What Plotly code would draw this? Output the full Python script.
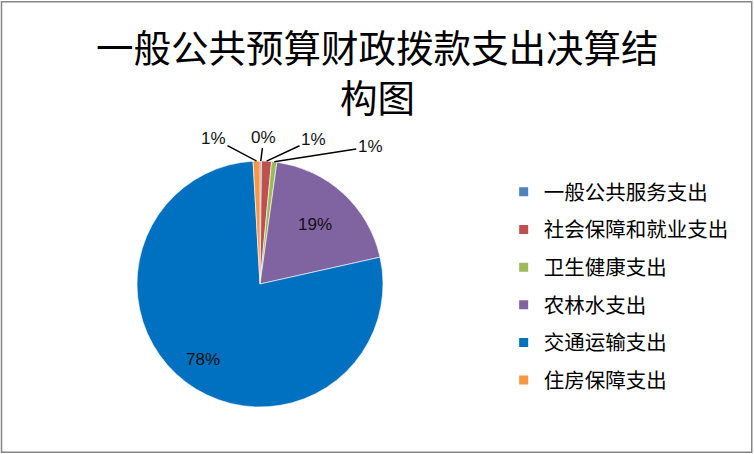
import math
import plotly.graph_objects as go

# ── data ────────────────────────────────────────────────────────────────
categories = ["一般公共服务支出", "社会保障和就业支出", "卫生健康支出",
              "农林水支出", "交通运输支出", "住房保障支出"]
shares     = [0.2, 1.3, 0.7, 19.3, 77.6, 0.9]
colors     = ["#4F81BD", "#C0504D", "#9BBB59", "#8064A2", "#0070C0", "#F79646"]

TITLE_LINES = ["一般公共预算财政拨款支出决算结", "构图"]
W, H = 754, 454
CJK = "Noto Sans CJK SC"
NUM = "Liberation Sans"

# pie geometry in pixels (centre + radius)
CX, CY, R = 260, 284, 123

fig = go.Figure()

fig.add_trace(go.Pie(
    labels=categories,
    values=shares,
    sort=False,
    direction="clockwise",
    rotation=0,
    marker=dict(colors=colors, line=dict(color="white", width=0.6)),
    textinfo="none",
    showlegend=False,
    hoverinfo="label+percent",
    domain=dict(x=[(CX - R) / W, (CX + R) / W], y=[(H - CY - R) / H, (H - CY + R) / H]),
))

# legend entries (one dummy trace per category so the spacing can be set)
for name, col in zip(categories, colors):
    fig.add_trace(go.Scatter(
        x=[None], y=[None], mode="markers", name=name, legendgroup=name,
        marker=dict(symbol="square", size=9, color=col),
    ))

# data labels: small slices get a leader line, big ones sit inside
outside = {0: (3, -24), 1: (47, -22), 2: (96, -15), 5: (-43, -23)}
inside = {3: 0.66, 4: 0.77}
total = sum(shares)
cum = 0.0
for i, v in enumerate(shares):
    mid = (cum + v / 2) / total * 2 * math.pi
    cum += v
    label = f"{round(v / total * 100)}%"
    font = dict(family=NUM, size=17, color="#111111")
    if i in outside:
        px = CX + R * math.sin(mid)
        py = CY - R * math.cos(mid)
        ax, ay = outside[i]
        fig.add_annotation(
            x=px / W, y=1 - py / H, xref="paper", yref="paper", text=label,
            showarrow=True, arrowhead=0, arrowwidth=1.5, arrowcolor="black",
            ax=ax, ay=ay, standoff=0, font=font,
        )
    else:
        r = inside[i] * R
        px = CX + r * math.sin(mid)
        py = CY - r * math.cos(mid)
        fig.add_annotation(
            x=px / W, y=1 - py / H, xref="paper", yref="paper", text=label,
            showarrow=False, xanchor="center", yanchor="middle", font=font,
        )

# two-line title
for txt, ypx in zip(TITLE_LINES, [45, 96]):
    fig.add_annotation(
        x=0.5, y=1 - ypx / H, xref="paper", yref="paper", text=txt,
        showarrow=False, xanchor="center", yanchor="middle",
        font=dict(family=CJK, size=37.5, color="black"),
    )

# chart border
fig.add_shape(type="rect", xref="paper", yref="paper", x0=0.002, x1=0.997, y0=0.004, y1=0.996,
              line=dict(color="#868686", width=1.5))

fig.update_layout(
    width=W, height=H,
    margin=dict(l=0, r=0, t=0, b=0),
    paper_bgcolor="white",
    plot_bgcolor="rgba(0,0,0,0)",
    xaxis=dict(visible=False),
    yaxis=dict(visible=False),
    legend=dict(x=0.668, y=1 - 172 / H, xanchor="left", yanchor="top",
                font=dict(family=CJK, size=20.5, color="black"),
                tracegroupgap=8, itemclick=False),
)

fig.write_html("out.html", config={"displayModeBar": False},
               post_script="document.body.style.margin='0';")
